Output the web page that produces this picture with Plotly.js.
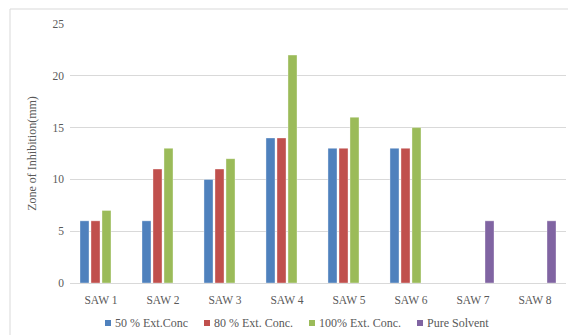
<!DOCTYPE html>
<html>
<head>
<meta charset="utf-8">
<script src="https://cdn.plot.ly/plotly-3.0.1.min.js"></script>
<style>
  html, body { margin: 0; padding: 0; background: #ffffff; }
  #chart { width: 568px; height: 335px; }
</style>
</head>
<body>
<div id="chart"></div>
<script>
// Zone of inhibition per sample, by extract concentration
const samples = ['SAW 1', 'SAW 2', 'SAW 3', 'SAW 4', 'SAW 5', 'SAW 6', 'SAW 7', 'SAW 8'];
const seriesNames = ['50 % Ext.Conc', '80 % Ext. Conc.', '100% Ext. Conc.', 'Pure Solvent'];
const conc50 = [6, 6, 10, 14, 13, 13, null, null];
const conc80 = [6, 11, 11, 14, 13, 13, null, null];
const conc100 = [7, 13, 12, 22, 16, 15, null, null];
const pureSolvent = [null, null, null, null, null, null, 6, 6];
const yTicks = [0, 5, 10, 15, 20, 25];

const colors = ['#4f81bd', '#c0504d', '#9bbb59', '#8064a2'];
const values = [conc50, conc80, conc100, pureSolvent];

const font = 'Liberation Serif, DejaVu Serif, serif';
const textColor = '#595959';

const traces = values.map((v, i) => ({
  type: 'bar',
  name: seriesNames[i],
  x: samples,
  y: v,
  marker: { color: colors[i], line: { color: 'rgba(255,255,255,0.6)', width: 0.6 } },
  hoverinfo: 'skip'
}));

// plot area in pixels
const plotLeft = 70, plotRight = 566, plotTop = 24, plotBottom = 283;
const pw = plotRight - plotLeft, ph = plotBottom - plotTop;
const px = x => (x - plotLeft) / pw;
const py = y => (plotBottom - y) / ph;

// outer frame (left and top edges)
const shapes = [
  { type: 'line', xref: 'paper', yref: 'paper', x0: px(10), x1: px(10), y0: py(340), y1: py(9),
    line: { color: '#d9d9d9', width: 1 } },
  { type: 'line', xref: 'paper', yref: 'paper', x0: px(10), x1: px(570), y0: py(9), y1: py(9),
    line: { color: '#d9d9d9', width: 1 } }
];

// legend row below the axis: colour key square followed by its label
const legendLeft = [105, 204, 309, 417];
const legendY = 323;
const annotations = [];
seriesNames.forEach((name, i) => {
  shapes.push({
    type: 'rect', xref: 'paper', yref: 'paper',
    x0: px(legendLeft[i]), x1: px(legendLeft[i] + 6),
    y0: py(legendY + 3), y1: py(legendY - 3),
    fillcolor: colors[i], line: { width: 0 }
  });
  annotations.push({
    xref: 'paper', yref: 'paper',
    x: px(legendLeft[i] + 8), y: py(legendY),
    xanchor: 'left', yanchor: 'middle',
    text: name, showarrow: false,
    font: { family: font, size: 12, color: textColor }
  });
});

const layout = {
  width: 568,
  height: 335,
  margin: { l: plotLeft, r: 568 - plotRight, t: plotTop, b: 335 - plotBottom, pad: 0 },
  paper_bgcolor: '#ffffff',
  plot_bgcolor: '#ffffff',
  barmode: 'group',
  bargap: 0.29,
  bargroupgap: 0.18,
  showlegend: false,
  font: { family: font, size: 11, color: textColor },
  xaxis: {
    type: 'category',
    showgrid: false,
    showline: true,
    linecolor: '#d9d9d9',
    linewidth: 1,
    ticks: '',
    tickfont: { family: font, size: 11.5, color: textColor },
    ticklabelstandoff: 6,
    fixedrange: true
  },
  yaxis: {
    range: [0, 25],
    tickvals: yTicks,
    ticktext: yTicks.map(String),
    showgrid: true,
    gridcolor: '#d9d9d9',
    gridwidth: 1,
    zeroline: false,
    showline: false,
    ticks: '',
    ticklabelstandoff: 5,
    tickfont: { family: font, size: 11.5, color: textColor },
    title: { text: 'Zone of Inhibition(mm)', font: { family: font, size: 12, color: textColor }, standoff: 13 },
    fixedrange: true
  },
  shapes: shapes,
  annotations: annotations
};

Plotly.newPlot('chart', traces, layout, { displayModeBar: false, staticPlot: true });
</script>
</body>
</html>
